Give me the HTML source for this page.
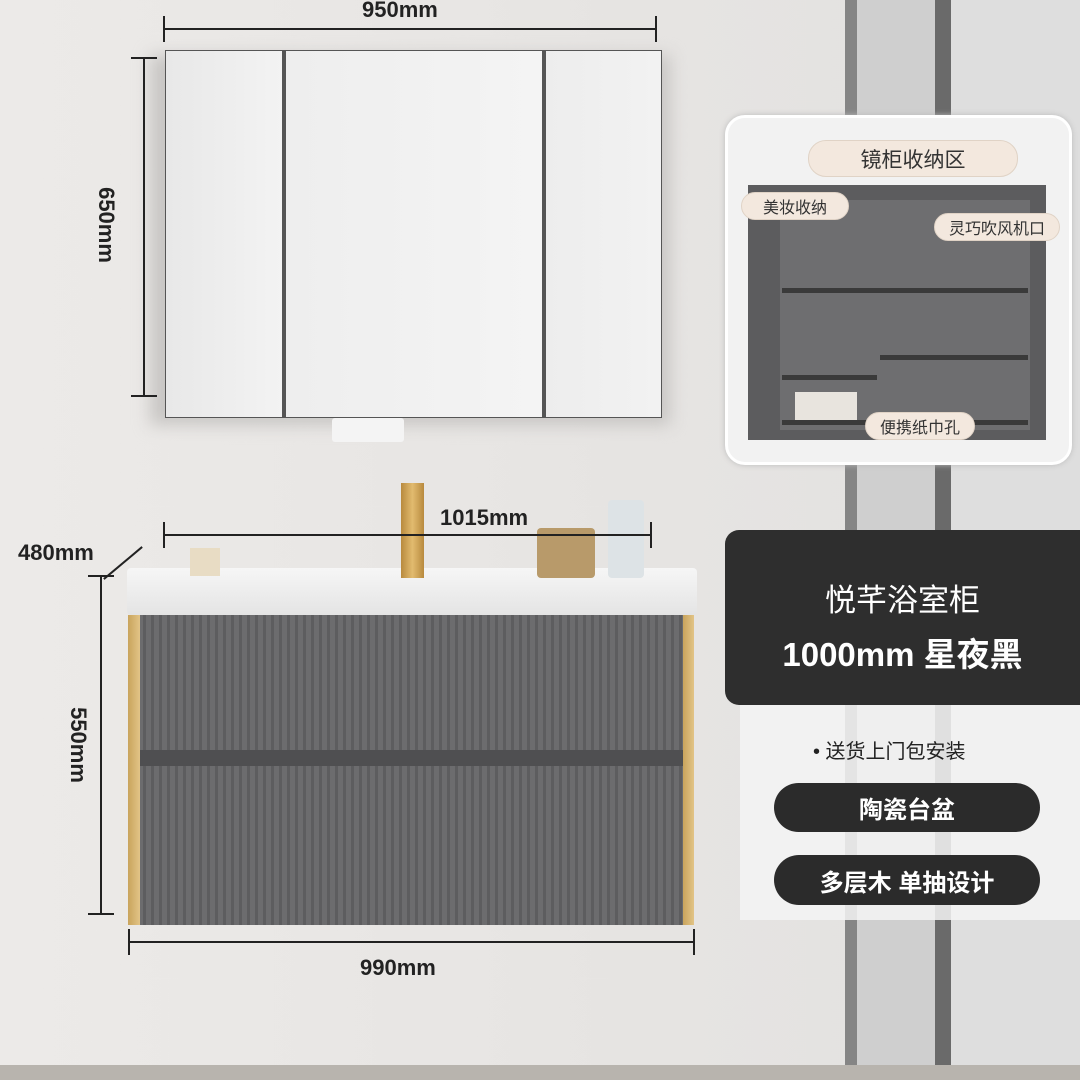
<!DOCTYPE html>
<html><head><meta charset="utf-8"><style>
*{margin:0;padding:0;box-sizing:border-box}
body{width:1080px;height:1080px;position:relative;overflow:hidden;background:linear-gradient(90deg,#eceae8 0%,#e6e4e2 60%,#e2e1e0 100%);font-family:"Liberation Sans","Noto Sans CJK SC",sans-serif}
.a{position:absolute}
.t{position:absolute;font-weight:bold;color:#222;font-size:22px;white-space:nowrap}
.pill{position:absolute;border-radius:25px;background:#2b2b2b;color:#fff;font-size:24px;font-weight:bold;display:flex;align-items:center;justify-content:center}
.lab{position:absolute;background:#f3e8de;border-radius:14px;color:#333;font-size:16px;display:flex;align-items:center;justify-content:center;border:1px solid #e0d3c6}
</style></head><body>
<div class="a" style="left:845px;top:0;width:235px;height:1080px;background:#dedede"></div>
<div class="a" style="left:857px;top:0;width:78px;height:1080px;background:#cfcfcf"></div>
<div class="a" style="left:845px;top:0;width:12px;height:1080px;background:#858585"></div>
<div class="a" style="left:935px;top:0;width:16px;height:1080px;background:#6a6a6a"></div>
<div class="a" style="left:0;top:1065px;width:1080px;height:15px;background:#b8b4ae"></div>
<div class="a" style="left:150px;top:55px;width:520px;height:370px;background:#c8c6c4;filter:blur(8px)"></div>
<div class="a" style="left:165px;top:50px;width:497px;height:368px;background:#555"></div>
<div class="a" style="left:166px;top:51px;width:116px;height:366px;background:linear-gradient(90deg,#e8e8e8,#f3f3f3)"></div>
<div class="a" style="left:286px;top:51px;width:256px;height:366px;background:linear-gradient(90deg,#eeeeee,#f4f4f4)"></div>
<div class="a" style="left:546px;top:51px;width:115px;height:366px;background:linear-gradient(90deg,#ededed,#f2f2f2)"></div>
<div class="a" style="left:332px;top:418px;width:72px;height:24px;background:#f4f4f4;border-radius:3px"></div>
<div class="a" style="left:163px;top:28px;width:494px;height:2px;background:#222"></div>
<div class="a" style="left:163px;top:16px;width:2px;height:26px;background:#222"></div>
<div class="a" style="left:655px;top:16px;width:2px;height:26px;background:#222"></div>
<div class="t" style="left:362px;top:-3px">950mm</div>
<div class="a" style="left:143px;top:57px;width:2px;height:340px;background:#222"></div>
<div class="a" style="left:131px;top:57px;width:26px;height:2px;background:#222"></div>
<div class="a" style="left:131px;top:395px;width:26px;height:2px;background:#222"></div>
<div class="t" style="left:68px;top:212px;transform:rotate(90deg)">650mm</div>
<div class="a" style="left:725px;top:115px;width:347px;height:350px;border-radius:20px;background:#f2f2f2;border:3px solid #fff;box-shadow:0 0 6px #bbb"></div>
<div class="a" style="left:748px;top:185px;width:298px;height:255px;background:#5c5c5e"></div>
<div class="a" style="left:780px;top:200px;width:250px;height:230px;background:#6e6e70"></div>
<div class="a" style="left:782px;top:288px;width:246px;height:5px;background:#3a3a3a"></div>
<div class="a" style="left:880px;top:355px;width:148px;height:5px;background:#3a3a3a"></div>
<div class="a" style="left:782px;top:375px;width:95px;height:5px;background:#3a3a3a"></div>
<div class="a" style="left:782px;top:420px;width:246px;height:5px;background:#3a3a3a"></div>
<div class="a" style="left:795px;top:392px;width:62px;height:28px;background:#e8e4de"></div>
<div class="lab" style="left:808px;top:140px;width:210px;height:37px;font-size:21px;border-radius:18px">镜柜收纳区</div>
<div class="lab" style="left:741px;top:192px;width:108px;height:28px">美妆收纳</div>
<div class="lab" style="left:934px;top:213px;width:126px;height:28px">灵巧吹风机口</div>
<div class="lab" style="left:865px;top:412px;width:110px;height:28px">便携纸巾孔</div>
<div class="a" style="left:725px;top:530px;width:360px;height:175px;background:#2e2e2e;border-radius:14px 0 0 14px"></div>
<div class="a" style="left:725px;top:585px;width:355px;text-align:center;color:#fff;font-size:31px;line-height:1">悦芊浴室柜</div>
<div class="a" style="left:725px;top:638px;width:355px;text-align:center;color:#fff;font-size:33px;font-weight:bold;line-height:1">1000mm&nbsp;星夜黑</div>
<div class="a" style="left:740px;top:705px;width:340px;height:215px;background:rgba(245,245,245,0.85)"></div>
<div class="a" style="left:813px;top:735px;font-size:20px;color:#222">• 送货上门包安装</div>
<div class="pill" style="left:774px;top:783px;width:266px;height:49px">陶瓷台盆</div>
<div class="pill" style="left:774px;top:855px;width:266px;height:50px">多层木 单抽设计</div>
<div class="a" style="left:130px;top:615px;width:563px;height:310px;background:repeating-linear-gradient(90deg,#6c6c6e 0 5px,#5d5d5f 5px 8px)"></div>
<div class="a" style="left:130px;top:750px;width:563px;height:16px;background:#4f4f51"></div>
<div class="a" style="left:128px;top:615px;width:12px;height:310px;background:linear-gradient(90deg,#c9a45c,#e2c487)"></div>
<div class="a" style="left:683px;top:615px;width:11px;height:310px;background:linear-gradient(90deg,#c9a45c,#e2c487)"></div>
<div class="a" style="left:127px;top:568px;width:570px;height:47px;background:linear-gradient(#f6f6f6,#e4e4e4);border-radius:4px"></div>
<div class="a" style="left:401px;top:483px;width:23px;height:95px;background:linear-gradient(90deg,#b88a3e,#e2bb6f,#b88a3e)"></div>
<div class="a" style="left:608px;top:500px;width:36px;height:78px;background:#dde3e6;border-radius:4px"></div>
<div class="a" style="left:537px;top:528px;width:58px;height:50px;background:#b89a6a;border-radius:4px"></div>
<div class="a" style="left:190px;top:548px;width:30px;height:28px;background:#e8dcc4"></div>
<div class="a" style="left:163px;top:534px;width:489px;height:2px;background:#222"></div>
<div class="a" style="left:163px;top:522px;width:2px;height:26px;background:#222"></div>
<div class="a" style="left:650px;top:522px;width:2px;height:26px;background:#222"></div>
<div class="t" style="left:440px;top:505px">1015mm</div>
<div class="t" style="left:18px;top:540px">480mm</div>
<div class="a" style="left:98px;top:562px;width:50px;height:2px;background:#222;transform:rotate(-40deg)"></div>
<div class="a" style="left:100px;top:575px;width:2px;height:340px;background:#222"></div>
<div class="a" style="left:88px;top:575px;width:26px;height:2px;background:#222"></div>
<div class="a" style="left:88px;top:913px;width:26px;height:2px;background:#222"></div>
<div class="t" style="left:40px;top:732px;transform:rotate(90deg)">550mm</div>
<div class="a" style="left:128px;top:941px;width:567px;height:2px;background:#222"></div>
<div class="a" style="left:128px;top:929px;width:2px;height:26px;background:#222"></div>
<div class="a" style="left:693px;top:929px;width:2px;height:26px;background:#222"></div>
<div class="t" style="left:360px;top:955px">990mm</div>
</body></html>
